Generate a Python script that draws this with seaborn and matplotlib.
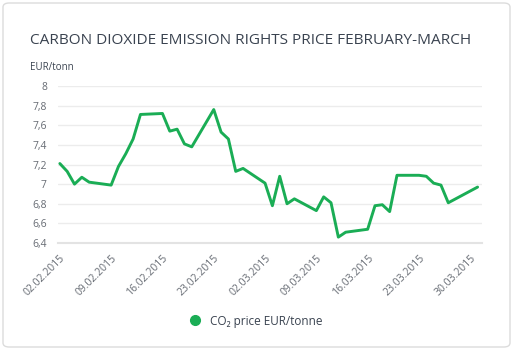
import pandas as pd
import matplotlib.pyplot as plt
import seaborn as sns
from matplotlib.lines import Line2D
from matplotlib.patches import FancyBboxPatch

dates = ["2015-02-02", "2015-02-03", "2015-02-04", "2015-02-05", "2015-02-06",
         "2015-02-09", "2015-02-10", "2015-02-11", "2015-02-12", "2015-02-13",
         "2015-02-16", "2015-02-17", "2015-02-18", "2015-02-19", "2015-02-20",
         "2015-02-23", "2015-02-24", "2015-02-25", "2015-02-26", "2015-02-27",
         "2015-03-02", "2015-03-03", "2015-03-04", "2015-03-05", "2015-03-06",
         "2015-03-09", "2015-03-10", "2015-03-11", "2015-03-12", "2015-03-13",
         "2015-03-16", "2015-03-17", "2015-03-18", "2015-03-19", "2015-03-20",
         "2015-03-23", "2015-03-24", "2015-03-25", "2015-03-26", "2015-03-27",
         "2015-03-31"]
prices = [7.21, 7.13, 7.00, 7.07, 7.02,
          6.99, 7.18, 7.31, 7.46, 7.71,
          7.72, 7.54, 7.56, 7.41, 7.38,
          7.76, 7.53, 7.46, 7.13, 7.16,
          7.01, 6.78, 7.08, 6.80, 6.85,
          6.73, 6.87, 6.81, 6.46, 6.51,
          6.54, 6.78, 6.79, 6.72, 7.09,
          7.09, 7.08, 7.01, 6.99, 6.81,
          6.97]

tick_dates = ["2015-02-02", "2015-02-09", "2015-02-16", "2015-02-23", "2015-03-02",
              "2015-03-09", "2015-03-16", "2015-03-23", "2015-03-30"]
y_ticks = [6.4, 6.6, 6.8, 7.0, 7.2, 7.4, 7.6, 7.8, 8.0]

df = pd.DataFrame({"date": pd.to_datetime(dates), "price": prices})

sns.set_style("white")
plt.rcParams["font.family"] = ["Open Sans", "DejaVu Sans"]

green = "#1aad55"
text_col = "#3a4350"
tick_col = "#666b73"

fig = plt.figure(figsize=(5.13, 3.5), dpi=100)
card = FancyBboxPatch((3 / 513, 3 / 350), 507 / 513, 344 / 350,
                      boxstyle="round,pad=0,rounding_size=0.012",
                      transform=fig.transFigure, facecolor="white",
                      edgecolor="#dcdcdc", linewidth=1.0, zorder=-10)
fig.patches.append(card)
ax = fig.add_axes([58 / 513, 1 - 243 / 350, (482 - 58) / 513, (243 - 86) / 350])
ax.set_facecolor("none")
ax.set_zorder(5)

sns.lineplot(data=df, x="date", y="price", ax=ax, color=green, linewidth=2.1)

start = pd.Timestamp("2015-02-02")
ax.set_xlim(start - pd.Timedelta(hours=6), start + pd.Timedelta(days=57.6))
ax.set_ylim(6.4, 8.0)

ax.set_yticks(y_ticks)
ax.set_yticklabels([f"{v:g}".replace(".", ",") for v in y_ticks])
ticks = pd.to_datetime(tick_dates)
ax.set_xticks(ticks)
ax.set_xticklabels([t.strftime("%d.%m.%Y") for t in ticks], rotation=45,
                   ha="right", rotation_mode="anchor")

ax.grid(axis="y", color="#ececec", linewidth=1)
ax.grid(axis="x", visible=False)
for s in ["top", "right", "left"]:
    ax.spines[s].set_visible(False)
ax.spines["bottom"].set_color("#e3e3e3")
ax.spines["bottom"].set_linewidth(1.5)
ax.tick_params(axis="both", length=0, labelsize=7.5, labelcolor=tick_col)
ax.tick_params(axis="y", pad=8)
ax.tick_params(axis="x", pad=7)
ax.set_xlabel("")
ax.set_ylabel("")

fig.text(30 / 513, 1 - 40 / 350, "CARBON DIOXIDE EMISSION RIGHTS PRICE FEBRUARY-MARCH",
         fontsize=11.1, color=text_col, va="center", ha="left")
fig.text(30 / 513, 1 - 67 / 350, "EUR/tonn", fontsize=7, color=text_col,
         va="center", ha="left")

handle = Line2D([], [], marker="o", linestyle="none", color=green, markersize=7)
fig.legend([handle], ["CO₂ price EUR/tonne"], loc="center",
           bbox_to_anchor=(253 / 513, 1 - 321 / 350), frameon=False,
           fontsize=8.5, labelcolor=text_col, handletextpad=0.3)

fig.savefig("out.png", dpi=100)
